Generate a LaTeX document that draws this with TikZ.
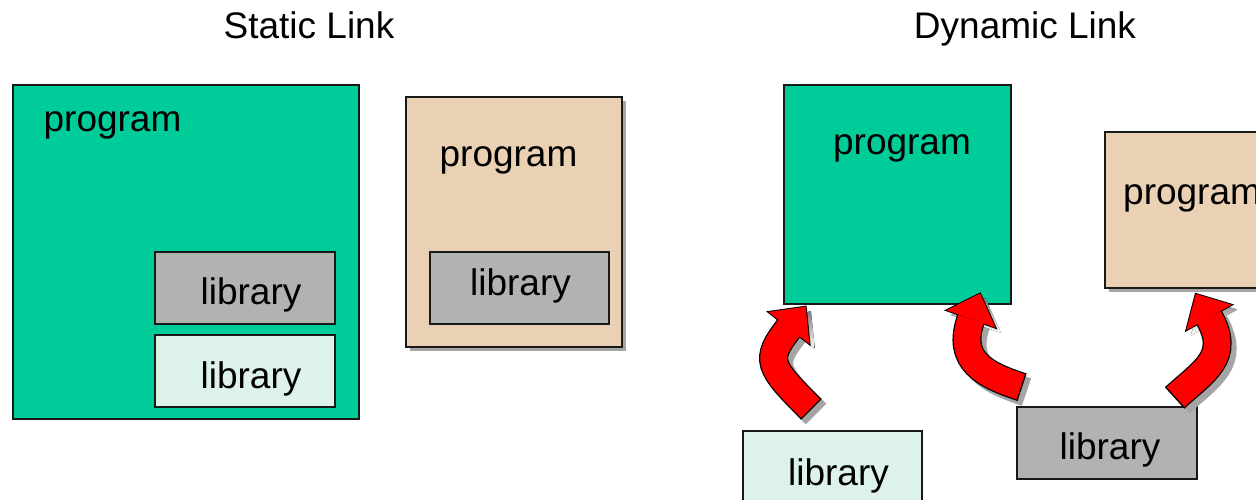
\documentclass[tikz,border=0pt]{standalone}
\usepackage{fontspec}
\setmainfont{Liberation Sans}
\usetikzlibrary{calc}

\definecolor{progGreen}{RGB}{0,204,153}
\definecolor{progTan}{RGB}{234,209,179}
\definecolor{libGray}{RGB}{178,178,178}
\definecolor{libMint}{RGB}{221,242,232}
\definecolor{shade}{RGB}{165,165,165}
\definecolor{arrowRed}{RGB}{255,0,0}

\tikzset{
  box/.style={draw=black!90, line width=1.6pt, inner sep=0pt, anchor=north west},
  boxshadow/.style={fill=shade, inner sep=0pt, anchor=north west},
  lbl/.style={font=\fontsize{37}{44}\selectfont, anchor=base, inner sep=0pt},
}

% curved block arrow: tail centre, two control points, centre of the head base;
% the tip lies 27pt beyond the base along the curve's end tangent
\newcommand{\bentarrow}[4]{%
  \begin{scope}[shift={(5,5)}]
    \draw[line width=29pt, draw=shade] (#1) .. controls (#2) and (#3) .. (#4);
    \fill[shade] ($(#4)!26.5pt!90:(#3)$) -- ($(#4)!27.5pt!180:(#3)$) -- ($(#4)!26.5pt!-90:(#3)$) -- cycle;
  \end{scope}
  \draw[line width=29pt, draw=black] (#1) .. controls (#2) and (#3) .. (#4);
  \filldraw[fill=arrowRed, draw=black, line width=2pt, line join=miter]
    ($(#4)!26pt!90:(#3)$) -- ($(#4)!27pt!180:(#3)$) -- ($(#4)!26pt!-90:(#3)$) -- cycle;
  \draw[line width=26.5pt, draw=arrowRed] (#1) .. controls (#2) and (#3) .. (#4);
  \fill[arrowRed] ($(#4)!26pt!90:(#3)$) -- ($(#4)!27pt!180:(#3)$) -- ($(#4)!26pt!-90:(#3)$) -- cycle;
  \draw[line width=1.3pt] ($(#1)!14.5pt!90:(#2)$) -- ($(#1)!14.5pt!-90:(#2)$);
}

\begin{document}
\begin{tikzpicture}[x=1pt,y=-1pt]
\useasboundingbox (0,0) rectangle (1256,499);
\clip (0,0) rectangle (1256,499);

% titles
\node[lbl] (tstatic) at (309,38) {Static Link};
\node[lbl] (tdynamic) at (1025,38) {Dynamic Link};

% static linking: libraries copied into each program
\node[box, fill=progGreen, minimum width=346pt, minimum height=334pt] (sprog) at (12,84) {};
\node[lbl] (sprogt) at (112.5,131) {program};
\node[box, fill=libGray, minimum width=180pt, minimum height=72pt] (slibA) at (154,251) {};
\node[lbl] (slibAt) at (251,304) {library};
\node[box, fill=libMint, minimum width=180pt, minimum height=72pt] (slibB) at (154,334) {};
\node[lbl] (slibBt) at (251,388) {library};

\node[boxshadow, minimum width=216pt, minimum height=250pt] (tprogsh) at (410,101) {};
\node[box, fill=progTan, minimum width=216pt, minimum height=250pt] (tprog) at (405,96) {};
\node[lbl] (tprogt) at (508.5,166) {program};
\node[box, fill=libGray, minimum width=179pt, minimum height=72pt] (tlib) at (429,251) {};
\node[lbl] (tlibt) at (520.5,295) {library};

% dynamic linking: shared libraries loaded at run time
\node[box, fill=progGreen, minimum width=227pt, minimum height=219pt] (dprog) at (783,84) {};
\node[lbl] (dprogt) at (902,154) {program};
\node[boxshadow, minimum width=176pt, minimum height=156pt] (rprogsh) at (1109,136) {};
\node[box, fill=progTan, minimum width=176pt, minimum height=156pt] (rprog) at (1104,131) {};
\node[lbl, anchor=base west] (rprogt) at (1123,204) {program};
\node[box, fill=libMint, minimum width=179pt, minimum height=72pt] (dlibA) at (742,430) {};
\node[lbl] (dlibAt) at (838.5,485) {library};
\node[box, fill=libGray, minimum width=180pt, minimum height=72pt] (dlibB) at (1016,406) {};
\node[lbl] (dlibBt) at (1110,459) {library};

% loading arrows
\bentarrow{811,409}{768,366}{764,360}{789,328}
\bentarrow{1021.5,387}{985,375}{956,361}{971,319}
\bentarrow{1175,397.5}{1204.6,370.7}{1231,356.7}{1209,317.5}
\end{tikzpicture}
\end{document}
